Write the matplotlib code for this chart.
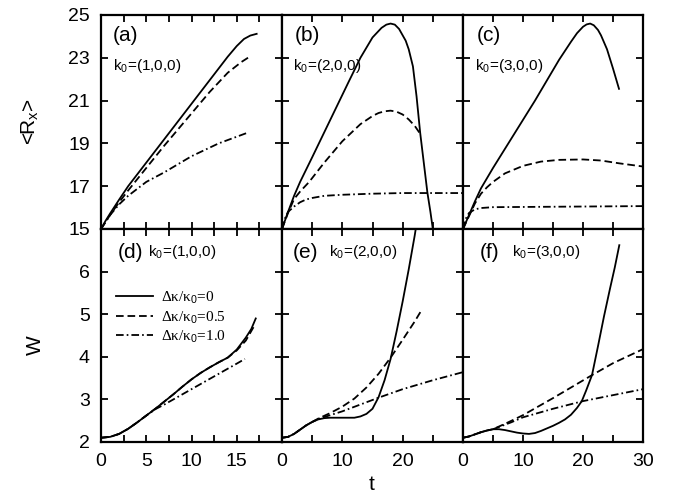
import matplotlib
matplotlib.use("Agg")
import matplotlib.pyplot as plt
import numpy as np

plt.rcParams['font.family'] = ['Liberation Sans', 'DejaVu Sans']
plt.rcParams['mathtext.fontset'] = 'custom'
plt.rcParams['mathtext.rm'] = 'Liberation Sans'
plt.rcParams['mathtext.it'] = 'Liberation Sans:italic'
plt.rcParams['lines.scale_dashes'] = False

# ---------------- data: <R_x> (top row) ----------------
a_solid_t = [0, 0.5, 1, 2, 3, 5, 8, 11, 14, 15, 15.8, 16.5, 17.2]
a_solid_y = [15, 15.38, 15.72, 16.37, 17.0, 18.1, 19.75, 21.4, 23.05, 23.55, 23.88, 24.04, 24.12]
a_dash_t = [0, 1, 2, 3, 5, 7, 10, 12, 14, 15.5, 16.6]
a_dash_y = [15, 15.65, 16.25, 16.8, 17.85, 18.9, 20.4, 21.4, 22.3, 22.8, 23.1]
a_dd_t = [0, 1, 2, 3, 5, 7, 10, 13, 16.2]
a_dd_y = [15, 15.65, 16.15, 16.55, 17.2, 17.65, 18.4, 19.0, 19.5]

b_solid_t = [0, 1, 2, 3, 5, 8, 11, 13, 15, 16.5, 17.3, 18, 18.7, 19.4, 20, 20.5, 21, 21.7, 22.3, 22.9, 23.5, 24.1, 24.6, 25]
b_solid_y = [15, 15.8, 16.55, 17.2, 18.35, 20.1, 21.85, 23.0, 23.95, 24.4, 24.55, 24.6, 24.55, 24.35, 24.05, 23.8, 23.4, 22.6, 21.2, 19.5, 18.1, 16.7, 15.8, 15.0]
b_dash_t = [0, 1, 2, 3, 4.5, 7, 10, 13, 15, 16, 17, 18, 19, 20, 21, 22, 22.9]
b_dash_y = [15, 15.75, 16.4, 16.75, 17.2, 18.1, 19.1, 19.9, 20.28, 20.42, 20.5, 20.53, 20.48, 20.35, 20.12, 19.82, 19.45]
b_dd_t = [0, 0.5, 1, 2, 3, 4, 5, 7, 10, 15, 20, 25, 30]
b_dd_y = [15, 15.5, 15.8, 16.05, 16.25, 16.38, 16.45, 16.55, 16.6, 16.65, 16.68, 16.68, 16.68]

c_solid_t = [0, 1, 2, 3, 5, 8, 12, 16, 18, 19, 20, 20.6, 21.2, 21.8, 22.5, 23, 24, 25, 26]
c_solid_y = [15, 15.65, 16.3, 16.9, 17.85, 19.2, 21.0, 22.9, 23.75, 24.15, 24.45, 24.56, 24.6, 24.52, 24.3, 24.05, 23.4, 22.5, 21.55]
c_dash_t = [0, 1, 2, 3, 4, 5, 7, 10, 13, 16, 20, 23, 26, 30]
c_dash_y = [15, 15.6, 16.2, 16.65, 16.95, 17.2, 17.6, 17.95, 18.15, 18.23, 18.25, 18.2, 18.07, 17.92]
c_dd_t = [0, 0.5, 1, 2, 3, 5, 10, 20, 30]
c_dd_y = [15, 15.5, 15.75, 15.92, 15.98, 16.02, 16.03, 16.05, 16.07]

# ---------------- data: W (bottom row) ----------------
d_solid_t = [0, 1, 2, 3, 4, 5, 6, 7, 8, 9, 10, 11, 12, 13, 14, 15, 16, 16.6, 17.1]
d_solid_y = [2.1, 2.12, 2.19, 2.31, 2.46, 2.62, 2.78, 2.95, 3.12, 3.3, 3.47, 3.62, 3.75, 3.87, 3.98, 4.17, 4.45, 4.65, 4.9]
d_dash_t = [0, 1, 2, 3, 4, 5, 6, 7, 8, 9, 10, 11, 12, 13, 14, 15, 16, 17]
d_dash_y = [2.1, 2.12, 2.19, 2.31, 2.46, 2.62, 2.78, 2.95, 3.12, 3.3, 3.47, 3.62, 3.75, 3.87, 3.98, 4.15, 4.38, 4.75]
d_dd_t = [0, 1, 2, 3, 4, 5, 6, 7, 9, 11, 13, 15, 15.9]
d_dd_y = [2.1, 2.12, 2.19, 2.31, 2.46, 2.62, 2.77, 2.88, 3.12, 3.36, 3.6, 3.84, 3.95]

e_solid_t = [0, 1, 2, 3, 4, 5, 6, 7, 8, 10, 12, 13, 14, 15, 16, 17, 18, 19, 20, 21, 22, 22.5]
e_solid_y = [2.1, 2.12, 2.19, 2.29, 2.39, 2.47, 2.53, 2.56, 2.57, 2.57, 2.57, 2.6, 2.66, 2.78, 3.05, 3.45, 3.95, 4.6, 5.3, 6.05, 6.85, 7.3]
e_dash_t = [0, 1, 2, 3, 4, 5, 6, 8, 10, 12, 14, 16, 18, 20, 22, 23.15]
e_dash_y = [2.1, 2.12, 2.19, 2.29, 2.39, 2.47, 2.55, 2.68, 2.83, 3.02, 3.28, 3.6, 3.98, 4.4, 4.83, 5.1]
e_dd_t = [0, 1, 2, 3, 4, 5, 6, 8, 10, 13, 16, 20, 25, 30]
e_dd_y = [2.1, 2.12, 2.19, 2.29, 2.39, 2.47, 2.54, 2.63, 2.72, 2.88, 3.04, 3.24, 3.45, 3.64]

f_solid_t = [0, 1, 2, 3, 4, 5, 6, 7, 8, 9, 10, 11, 12, 13, 14, 15, 16, 17, 18, 19, 19.8, 20.5, 21.5, 22.5, 23.5, 24.5, 25.3, 26.05]
f_solid_y = [2.1, 2.13, 2.18, 2.23, 2.27, 2.3, 2.3, 2.28, 2.25, 2.22, 2.2, 2.19, 2.21, 2.26, 2.32, 2.38, 2.45, 2.53, 2.64, 2.8, 2.96, 3.2, 3.57, 4.25, 4.95, 5.6, 6.1, 6.62]
f_dash_t = [0, 1, 2, 3, 4, 5, 7.5, 10, 15, 21.5, 25, 30]
f_dash_y = [2.1, 2.13, 2.18, 2.23, 2.27, 2.3, 2.46, 2.63, 3.03, 3.57, 3.85, 4.18]
f_dd_t = [0, 1, 2, 3, 4, 5, 8, 10, 15, 20, 25, 30]
f_dd_y = [2.1, 2.13, 2.18, 2.23, 2.27, 2.3, 2.46, 2.58, 2.78, 2.96, 3.1, 3.24]

panel_labels = ['(a)', '(b)', '(c)', '(d)', '(e)', '(f)']
k_labels = ['k$_0$=(1,0,0)', 'k$_0$=(2,0,0)', 'k$_0$=(3,0,0)']
legend_labels = ['Δκ/κ$_0$=0', 'Δκ/κ$_0$=0.5', 'Δκ/κ$_0$=1.0']

series = [
    [(a_solid_t, a_solid_y), (a_dash_t, a_dash_y), (a_dd_t, a_dd_y)],
    [(b_solid_t, b_solid_y), (b_dash_t, b_dash_y), (b_dd_t, b_dd_y)],
    [(c_solid_t, c_solid_y), (c_dash_t, c_dash_y), (c_dd_t, c_dd_y)],
    [(d_solid_t, d_solid_y), (d_dash_t, d_dash_y), (d_dd_t, d_dd_y)],
    [(e_solid_t, e_solid_y), (e_dash_t, e_dash_y), (e_dd_t, e_dd_y)],
    [(f_solid_t, f_solid_y), (f_dash_t, f_dash_y), (f_dd_t, f_dd_y)],
]

xlims = [20, 30, 30]
xmajor = [[0, 5, 10, 15], [0, 10, 20], [0, 10, 20, 30]]
xminor_step = [2.5, 5, 5]

styles = [dict(linestyle='-'), dict(dashes=(5.5, 2.8)), dict(dashes=(5.5, 2.2, 1.2, 2.2))]

W, H = 677, 503
fig = plt.figure(figsize=(W / 100, H / 100), dpi=100)
lefts = [101, 282, 463]
widths = [181, 181, 180]
row_top = [(15, 229), (229, 442)]

axes = []
for r in range(2):
    for c in range(3):
        y0, y1 = row_top[r]
        ax = fig.add_axes([lefts[c] / W, 1 - y1 / H, widths[c] / W, (y1 - y0) / H])
        axes.append(ax)

tick_fs = 14
for i, ax in enumerate(axes):
    r, c = divmod(i, 3)
    for j, (t, y) in enumerate(series[i]):
        ax.plot(t, y, color='black', lw=1.3, solid_joinstyle='round', **styles[j],
                label=legend_labels[j])
    ax.set_xlim(0, xlims[c])
    ticks = np.arange(0, xlims[c] + 0.01, xminor_step[c])
    ax.set_xticks(ticks)
    if r == 1:
        ax.set_xticklabels([str(int(v)) if v in xmajor[c] else '' for v in ticks])
    else:
        ax.set_xticklabels([])
    if r == 0:
        ax.set_ylim(15, 25)
        yt = [15, 17, 19, 21, 23, 25]
        ax.set_yticks(yt)
        if c == 0:
            ax.set_yticklabels([str(v) for v in yt])
        else:
            ax.set_yticklabels([])
    else:
        ax.set_ylim(2, 7)
        yt = [2, 3, 4, 5, 6, 7]
        ax.set_yticks(yt)
        if c == 0:
            ax.set_yticklabels(['2', '3', '4', '5', '6', ''])
        else:
            ax.set_yticklabels([])
    ax.tick_params(direction='in', length=5, width=1.3, top=True, right=True,
                   labelsize=tick_fs, pad=8)
    for s in ax.spines.values():
        s.set_linewidth(1.6)

# panel labels
top_lab_x = [0.066, 0.072, 0.077]
bot_lab_x = [0.094, 0.061, 0.094]
top_k_x = [0.066, 0.06, 0.066]
bot_k_x = [0.26, 0.26, 0.27]
for c in range(3):
    axes[c].text(top_lab_x[c], 0.905, panel_labels[c], transform=axes[c].transAxes,
                 fontsize=15, va='center', ha='left')
    axes[c].text(top_k_x[c], 0.762, k_labels[c], transform=axes[c].transAxes,
                 fontsize=11, va='center', ha='left')
    axes[3 + c].text(bot_lab_x[c], 0.892, panel_labels[3 + c], transform=axes[3 + c].transAxes,
                     fontsize=15, va='center', ha='left')
    axes[3 + c].text(bot_k_x[c], 0.892, k_labels[c], transform=axes[3 + c].transAxes,
                     fontsize=11, va='center', ha='left')

leg = axes[3].legend(loc='upper left', bbox_to_anchor=(0.085, 0.715), frameon=False,
                     prop={'family': ['Liberation Serif', 'DejaVu Serif'], 'size': 11},
                     handlelength=2.4, handletextpad=0.55, labelspacing=0.2,
                     borderpad=0, borderaxespad=0)

fig.text(30 / W, 1 - 122 / H, r'<R$_\mathrm{x}$>', rotation=90, fontsize=15, ha='center', va='center')
fig.text(35 / W, 1 - 345 / H, 'W', rotation=90, fontsize=15, ha='center', va='center')
fig.text(372 / W, 1 - 485 / H, 't', fontsize=15, ha='center', va='center')

fig.savefig('out.png', dpi=100)
